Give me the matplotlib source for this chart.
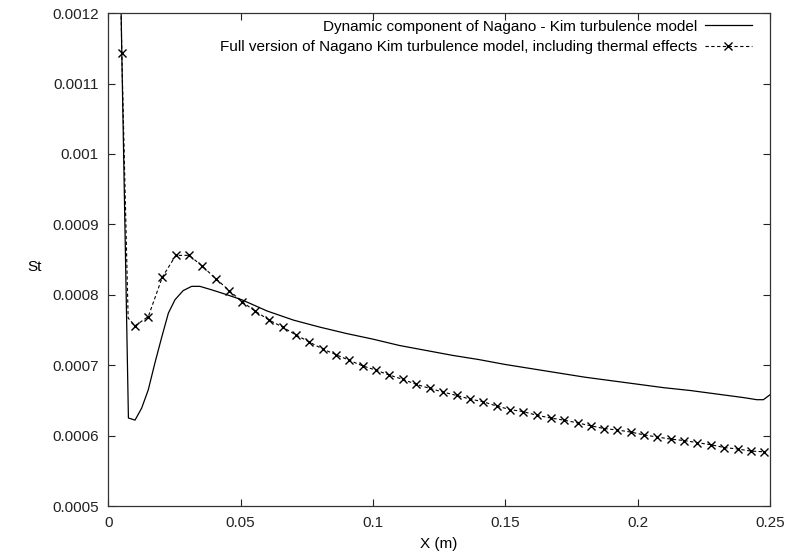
import matplotlib
matplotlib.use("Agg")
import matplotlib.pyplot as plt

plt.rcParams['font.family'] = ['Liberation Sans', 'DejaVu Sans']

# Dynamic component (solid line)
x_dyn = [0.0, 0.0051, 0.0076, 0.0101, 0.0126, 0.0151, 0.0176, 0.0202, 0.0227,
         0.0252, 0.0283, 0.0315, 0.0346, 0.0391, 0.0441, 0.0504, 0.06, 0.07,
         0.08, 0.09, 0.10, 0.11, 0.12, 0.13, 0.14, 0.15, 0.16, 0.17, 0.18,
         0.19, 0.20, 0.21, 0.22, 0.23, 0.24, 0.245, 0.2475, 0.25]
st_dyn = [2.3e-3, 1.143e-3, 0.625e-3, 0.622e-3, 0.639e-3, 0.665e-3, 0.703e-3,
          0.740e-3, 0.774e-3, 0.793e-3, 0.806e-3, 0.812e-3, 0.812e-3, 0.807e-3,
          0.801e-3, 0.793e-3, 0.777e-3, 0.764e-3, 0.754e-3, 0.745e-3, 0.737e-3,
          0.728e-3, 0.721e-3, 0.714e-3, 0.708e-3, 0.701e-3, 0.695e-3, 0.689e-3,
          0.683e-3, 0.678e-3, 0.673e-3, 0.668e-3, 0.664e-3, 0.659e-3, 0.654e-3,
          0.651e-3, 0.651e-3, 0.658e-3]

# Full version (dashed line with x markers)
x_full = [0.0, 0.0051, 0.0075, 0.0101, 0.0151, 0.0204, 0.0255, 0.0306, 0.0354,
          0.0406, 0.0457, 0.0506, 0.0554, 0.0608, 0.0659, 0.0709, 0.0759,
          0.0810, 0.0860, 0.0910, 0.0961, 0.1011, 0.1062, 0.1112, 0.1162,
          0.1215, 0.1263, 0.1316, 0.1366, 0.1417, 0.1467, 0.1518, 0.1568,
          0.1618, 0.1671, 0.1721, 0.1773, 0.1822, 0.1873, 0.1923, 0.1974,
          0.2024, 0.2074, 0.2125, 0.2175, 0.2225, 0.2277, 0.2327, 0.2378,
          0.2428, 0.2478]
st_full = [2.3e-3, 1.143e-3, 0.767e-3, 0.756e-3, 0.769e-3, 0.825e-3, 0.856e-3,
           0.856e-3, 0.841e-3, 0.823e-3, 0.806e-3, 0.790e-3, 0.777e-3, 0.764e-3,
           0.754e-3, 0.743e-3, 0.733e-3, 0.723e-3, 0.715e-3, 0.707e-3, 0.699e-3,
           0.693e-3, 0.686e-3, 0.680e-3, 0.673e-3, 0.667e-3, 0.662e-3, 0.657e-3,
           0.652e-3, 0.648e-3, 0.642e-3, 0.637e-3, 0.634e-3, 0.629e-3, 0.625e-3,
           0.622e-3, 0.618e-3, 0.614e-3, 0.610e-3, 0.608e-3, 0.605e-3, 0.601e-3,
           0.598e-3, 0.595e-3, 0.593e-3, 0.590e-3, 0.587e-3, 0.583e-3, 0.581e-3,
           0.578e-3, 0.577e-3]
# points of the full series drawn without a marker
unmarked = [0, 2]

x_ticks = [0, 0.05, 0.1, 0.15, 0.2, 0.25]
x_ticklabels = ["0", "0.05", "0.1", "0.15", "0.2", "0.25"]
y_ticks = [0.0005, 0.0006, 0.0007, 0.0008, 0.0009, 0.001, 0.0011, 0.0012]
y_ticklabels = ["0.0005", "0.0006", "0.0007", "0.0008", "0.0009", "0.001",
                "0.0011", "0.0012"]

label_dyn = "Dynamic component of Nagano - Kim turbulence model"
label_full = "Full version of Nagano Kim turbulence model, including thermal effects"

fs = 11
fig = plt.figure(figsize=(7.9, 5.57), dpi=100)
ax = fig.add_axes([108.3 / 790, 1 - 506 / 557, (770 - 108.3) / 790, (506 - 13.2) / 557])

ax.plot(x_dyn, st_dyn, color='black', lw=0.9, label=label_dyn)
mark_idx = [i for i in range(len(x_full)) if i not in unmarked]
ax.plot(x_full, st_full, color='black', lw=0.8, linestyle=(0, (3.0, 2.2)),
        marker='x', markersize=6, markeredgewidth=1.0, markevery=mark_idx,
        label=label_full)

ax.set_xlim(0, 0.25)
ax.set_ylim(0.0005, 0.0012)
ax.set_xticks(x_ticks)
ax.set_xticklabels(x_ticklabels)
ax.set_yticks(y_ticks)
ax.set_yticklabels(y_ticklabels)
ax.tick_params(direction='in', length=5, width=0.8, top=True, right=True,
               labelsize=fs, pad=7, colors='#222222')
for s in ax.spines.values():
    s.set_linewidth(0.9)
    s.set_color('#333333')

ax.set_xlabel("X (m)", fontsize=fs, labelpad=5)
ax.set_ylabel("St", fontsize=fs, rotation=0, ha='center', va='center')
ax.yaxis.set_label_coords((35 - 108.3) / 661.7, 1 - (267 - 13.2) / 492.8)

leg = ax.legend(loc='upper right', frameon=False, markerfirst=False,
                fontsize=fs, handlelength=3.1, handletextpad=0.5,
                labelspacing=0.45, borderaxespad=0.0, borderpad=0.0,
                bbox_to_anchor=((752 - 108.3) / 661.7, 1 - (19.5 - 13.2) / 492.8))

fig.savefig("out.png", dpi=100)
